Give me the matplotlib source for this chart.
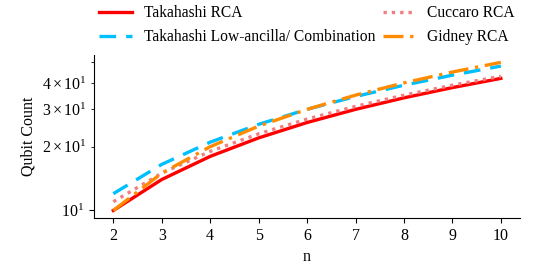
import matplotlib
matplotlib.use("Agg")
import matplotlib.pyplot as plt

plt.rcParams.update({
    "font.family": ["Liberation Serif", "DejaVu Serif"],
    "mathtext.fontset": "stix",
    "font.size": 11.5,
})

n = [2, 3, 4, 5, 6, 7, 8, 9, 10]
takahashi_rca = [10, 14, 18, 22, 26, 30, 34, 38, 42]
takahashi_low = [12, 16.5, 21, 25.5, 30, 34.5, 39, 43.5, 48]
cuccaro_rca = [11, 15, 19, 23, 27, 31, 35, 39, 43]
gidney_rca = [10, 15, 20, 25, 30, 35, 40, 45, 50]

fig = plt.figure(figsize=(5.43, 2.68), dpi=100)
ax = fig.add_axes([0.173, 0.187, 0.785, 0.608])

ax.plot(n, takahashi_rca, color="#ff0000", lw=2.4, ls="-", label="Takahashi RCA")
ax.plot(n, takahashi_low, color="#00bfff", lw=2.4, ls=(0, (5, 3)),
        label="Takahashi Low-ancilla/ Combination")
ax.plot(n, cuccaro_rca, color="#f08080", lw=2.4, ls=(0, (1, 1.5)), label="Cuccaro RCA")
ax.plot(n, gidney_rca, color="#ff8c00", lw=2.4, ls=(0, (6, 2, 1, 2)), label="Gidney RCA")

ax.set_yscale("log")
ax.set_xticks(n)
ax.set_xlabel("n")
ax.set_ylabel("Qubit Count")
ax.spines["top"].set_visible(False)
ax.spines["right"].set_visible(False)

ax.legend(ncol=2, loc="lower center", bbox_to_anchor=(0.5, 1.023), frameon=False,
          fontsize=11.2, handlelength=2.1, columnspacing=0.5, borderaxespad=0,
          labelspacing=0.5, handletextpad=0.75)

fig.savefig("out.png", dpi=100)
